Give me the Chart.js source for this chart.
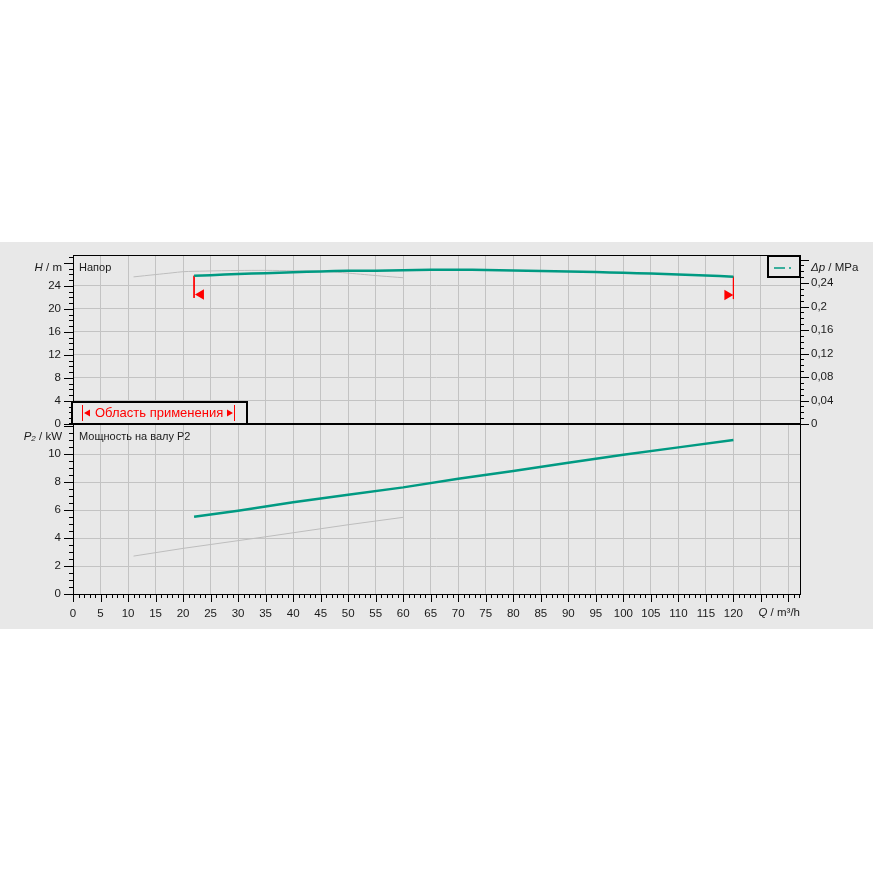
<!DOCTYPE html>
<html>
<head>
<meta charset="utf-8">
<script src="https://cdn.jsdelivr.net/npm/chart.js@4.4.1/dist/chart.umd.min.js"></script>
<style>
  body { margin: 0; background: #fff; }
  #wrap { position: relative; width: 873px; height: 873px; }
  #panel { position: absolute; left: 0; top: 242px; width: 873px; height: 387px; background: #e8e8e8; }
  canvas { position: absolute; left: 0; top: 0; }
</style>
</head>
<body>
<div id="wrap">
  <div id="panel"></div>
  <canvas id="head" width="873" height="873"></canvas>
  <canvas id="power" width="873" height="873"></canvas>
</div>
<script>
// напор, рабочая кривая
const headQ = [22, 25, 30, 35, 40, 45, 50, 55, 60, 65, 70, 75, 80, 85, 90, 95, 100, 105, 110, 115, 120];
const headH = [25.75, 25.85, 26.05, 26.18, 26.35, 26.5, 26.6, 26.63, 26.7, 26.78, 26.8, 26.75, 26.65, 26.58, 26.48, 26.4, 26.25, 26.12, 25.98, 25.8, 25.58];
// напор, серая кривая
const refHeadQ = [11, 13, 15, 18, 20, 24, 30, 35, 40, 45, 48, 50, 53, 56, 58, 60];
const refHeadH = [25.55, 25.75, 25.95, 26.25, 26.45, 26.56, 26.66, 26.68, 26.62, 26.52, 26.35, 26.2, 25.95, 25.7, 25.55, 25.4];
// мощность P2
const powerQ = [22, 30, 40, 50, 60, 70, 80, 90, 100, 110, 120];
const powerP = [5.52, 5.95, 6.55, 7.09, 7.62, 8.24, 8.79, 9.38, 9.95, 10.48, 11.0];
const refPowerQ = [11, 20, 35, 50, 60];
const refPowerP = [2.71, 3.26, 4.09, 4.95, 5.48];
// область применения: границы и маркеры
const limitQ = [22, 120];
const limitTopH = [25.75, 25.58];
const limitBottomH = [21.9, 21.7];
const arrowQ = [23.25, 118.9];
const arrowH = [22.5, 22.4];

const qMax = 132.1;
const hMax = 29.35;
const pMax = 12.15;
const MPA_PER_M = 0.00980665;

const TEAL = '#009a82';
const GRID = '#c3c3c3';
const REF = '#bdbdbd';
const TXT = '#1a1a1a';
const FONT = 'Liberation Sans, Arial, sans-serif';

Chart.defaults.font.family = FONT;
Chart.defaults.font.size = 11.5;
Chart.defaults.color = TXT;

const pts = (xs, ys) => xs.map((x, i) => ({ x: x, y: ys[i] }));
const comma = v => String(+v.toFixed(2)).replace('.', ',');

function titled(ctx, parts, x, y, align) {
  // parts: [text, italic, size, dy]
  ctx.textBaseline = 'middle';
  ctx.textAlign = 'left';
  const fontOf = p => (p[1] ? 'italic ' : '') + (p[2] || 11.5) + 'px ' + FONT;
  let total = 0;
  parts.forEach(p => { ctx.font = fontOf(p); total += ctx.measureText(p[0]).width; });
  let cx = align === 'right' ? x - total : x;
  parts.forEach(p => {
    ctx.font = fontOf(p);
    ctx.fillText(p[0], cx, y + (p[3] || 0));
    cx += ctx.measureText(p[0]).width;
  });
}

function tick(ctx, x1, y1, x2, y2) {
  ctx.moveTo(x1, y1);
  ctx.lineTo(x2, y2);
}

const headDecor = {
  id: 'headDecor',
  afterDraw(chart) {
    const { ctx, chartArea: a, scales } = chart;
    ctx.save();
    ctx.strokeStyle = '#000';
    ctx.lineWidth = 1;
    ctx.strokeRect(a.left + 0.5, a.top + 0.5, a.right - a.left, a.bottom - a.top);

    ctx.beginPath();
    for (let v = 0; v <= 29; v++) {
      const y = Math.round(scales.yH.getPixelForValue(v)) + 0.5;
      tick(ctx, a.left, y, a.left - (v % 4 === 0 ? 9 : 4), y);
    }
    for (let k = 0; k <= 28; k++) {
      const y = Math.round(scales.yDp.getPixelForValue(k / 100)) + 0.5;
      tick(ctx, a.right, y, a.right + (k % 4 === 0 ? 9 : 4), y);
    }
    ctx.stroke();

    // легенда справа вверху
    ctx.fillStyle = '#e8e8e8';
    ctx.fillRect(a.right - 32, a.top, 32, 21);
    ctx.lineWidth = 2;
    ctx.strokeRect(a.right - 32, a.top + 1, 32, 21);
    ctx.strokeStyle = TEAL;
    ctx.lineWidth = 1.5;
    ctx.beginPath();
    tick(ctx, a.right - 26, a.top + 13, a.right - 15, a.top + 13);
    tick(ctx, a.right - 11, a.top + 13, a.right - 9, a.top + 13);
    ctx.stroke();

    // область применения
    const bx = a.left - 1, by = a.bottom - 22, bw = 175, bh = 22;
    ctx.fillStyle = '#e8e8e8';
    ctx.fillRect(bx, by, bw, bh);
    ctx.strokeStyle = '#000';
    ctx.lineWidth = 2;
    ctx.strokeRect(bx, by, bw, bh);
    const cy = by + 11;
    ctx.strokeStyle = '#ff0000';
    ctx.fillStyle = '#ff0000';
    ctx.lineWidth = 1;
    ctx.beginPath();
    tick(ctx, bx + 10.5, cy - 8, bx + 10.5, cy + 8);
    tick(ctx, bx + 162.5, cy - 8, bx + 162.5, cy + 8);
    ctx.stroke();
    ctx.beginPath();
    ctx.moveTo(bx + 12, cy); ctx.lineTo(bx + 18, cy - 3.5); ctx.lineTo(bx + 18, cy + 3.5); ctx.closePath();
    ctx.moveTo(bx + 161, cy); ctx.lineTo(bx + 155, cy - 3.5); ctx.lineTo(bx + 155, cy + 3.5); ctx.closePath();
    ctx.fill();
    ctx.font = '13px ' + FONT;
    ctx.textAlign = 'left';
    ctx.textBaseline = 'middle';
    ctx.fillText('Область применения', bx + 23, cy + 0.5);

    ctx.fillStyle = TXT;
    ctx.font = '11px ' + FONT;
    ctx.fillText('Напор', a.left + 6, a.top + 13);
    titled(ctx, [['H', true], [' / m', false]], a.left - 11, a.top + 13, 'right');
    titled(ctx, [['\u0394p', true], [' / MPa', false]], a.right + 11, a.top + 13, 'left');
    ctx.restore();
  }
};

const powerDecor = {
  id: 'powerDecor',
  afterDraw(chart) {
    const { ctx, chartArea: a, scales } = chart;
    ctx.save();
    ctx.strokeStyle = '#000';
    ctx.lineWidth = 1;
    ctx.strokeRect(a.left + 0.5, a.top + 0.5, a.right - a.left, a.bottom - a.top);
    ctx.beginPath();
    for (let k = 0; k <= 24; k++) {
      const y = Math.round(scales.yP.getPixelForValue(k / 2)) + 0.5;
      tick(ctx, a.left, y, a.left - (k % 4 === 0 ? 9 : 4), y);
    }
    for (let v = 0; v <= 132; v++) {
      const x = Math.round(scales.x.getPixelForValue(v)) + 0.5;
      tick(ctx, x, a.bottom, x, a.bottom + (v % 5 === 0 ? 8 : 4));
    }
    ctx.stroke();
    ctx.lineWidth = 2;
    ctx.beginPath();
    tick(ctx, a.left - 4, a.top, a.right, a.top);
    ctx.stroke();

    ctx.fillStyle = TXT;
    ctx.font = '11px ' + FONT;
    ctx.textAlign = 'left';
    ctx.textBaseline = 'middle';
    ctx.fillText('Мощность на валу P2', a.left + 6, a.top + 13);
    titled(ctx, [['P', true], ['2', true, 8, 2], [' / kW', false]], a.left - 11, a.top + 13, 'right');
    titled(ctx, [['Q', true], [' / m\u00b3/h', false]], a.right, a.bottom + 19, 'right');
    ctx.restore();
  }
};

const common = {
  responsive: false,
  animation: false,
  events: [],
  plugins: { legend: { display: false }, tooltip: { enabled: false } }
};

const xGrid = {
  type: 'linear', min: 0, max: qMax,
  afterBuildTicks: s => { s.ticks = s.ticks.filter(t => t.value <= 130); },
  grid: { color: GRID, drawTicks: false },
  border: { display: false }
};

new Chart(document.getElementById('head'), {
  type: 'line',
  data: {
    datasets: [
      { data: pts(headQ, headH), borderColor: TEAL, borderWidth: 2.5, pointRadius: 0, tension: 0.3, yAxisID: 'yH' },
      { data: pts([limitQ[0], limitQ[0]], [limitTopH[0], limitBottomH[0]]), borderColor: '#ff0000', borderWidth: 1, pointRadius: 0, yAxisID: 'yH' },
      { data: pts([limitQ[1], limitQ[1]], [limitTopH[1], limitBottomH[1]]), borderColor: '#ff0000', borderWidth: 1, pointRadius: 0, yAxisID: 'yH' },
      { data: pts([arrowQ[0]], [arrowH[0]]), showLine: false, pointStyle: 'triangle', pointRotation: 270, pointRadius: 6, backgroundColor: '#ff0000', borderWidth: 0, yAxisID: 'yH' },
      { data: pts([arrowQ[1]], [arrowH[1]]), showLine: false, pointStyle: 'triangle', pointRotation: 90, pointRadius: 6, backgroundColor: '#ff0000', borderWidth: 0, yAxisID: 'yH' },
      { data: pts(refHeadQ, refHeadH), borderColor: REF, borderWidth: 1, pointRadius: 0, tension: 0.3, yAxisID: 'yH' }
    ]
  },
  options: Object.assign({}, common, {
    layout: { padding: { top: 255, bottom: 449, left: 0, right: 0 } },
    scales: {
      x: Object.assign({}, xGrid, { ticks: { display: false, stepSize: 5 }, afterFit: s => { s.height = 0; } }),
      yH: {
        position: 'left', min: 0, max: hMax,
        ticks: { stepSize: 4, padding: 12, includeBounds: false },
        afterBuildTicks: s => { s.ticks = s.ticks.filter(t => t.value <= 24); },
        grid: { color: GRID, drawTicks: false },
        border: { display: false },
        afterFit: s => { s.width = 73; }
      },
      yDp: {
        position: 'right', min: 0, max: hMax * MPA_PER_M,
        ticks: { stepSize: 0.04, padding: 11, includeBounds: false, callback: v => comma(v) },
        afterBuildTicks: s => { s.ticks = s.ticks.filter(t => t.value <= 0.245); },
        grid: { drawOnChartArea: false, drawTicks: false },
        border: { display: false },
        afterFit: s => { s.width = 73; }
      }
    }
  }),
  plugins: [headDecor]
});

new Chart(document.getElementById('power'), {
  type: 'line',
  data: {
    datasets: [
      { data: pts(powerQ, powerP), borderColor: TEAL, borderWidth: 2.5, pointRadius: 0, yAxisID: 'yP' },
      { data: pts(refPowerQ, refPowerP), borderColor: REF, borderWidth: 1, pointRadius: 0, yAxisID: 'yP' }
    ]
  },
  options: Object.assign({}, common, {
    layout: { padding: { top: 424, bottom: 244, left: 0, right: 73 } },
    scales: {
      x: Object.assign({}, xGrid, {
        ticks: { stepSize: 5, autoSkip: false, maxRotation: 0, padding: 13, includeBounds: false, callback: v => (v <= 120 ? v : '') },
        afterFit: s => { s.height = 35; }
      }),
      yP: {
        position: 'left', min: 0, max: pMax,
        ticks: { stepSize: 2, padding: 12, includeBounds: false },
        afterBuildTicks: s => { s.ticks = s.ticks.filter(t => t.value <= 10); },
        grid: { color: GRID, drawTicks: false },
        border: { display: false },
        afterFit: s => { s.width = 73; }
      }
    }
  }),
  plugins: [powerDecor]
});
</script>
</body>
</html>
